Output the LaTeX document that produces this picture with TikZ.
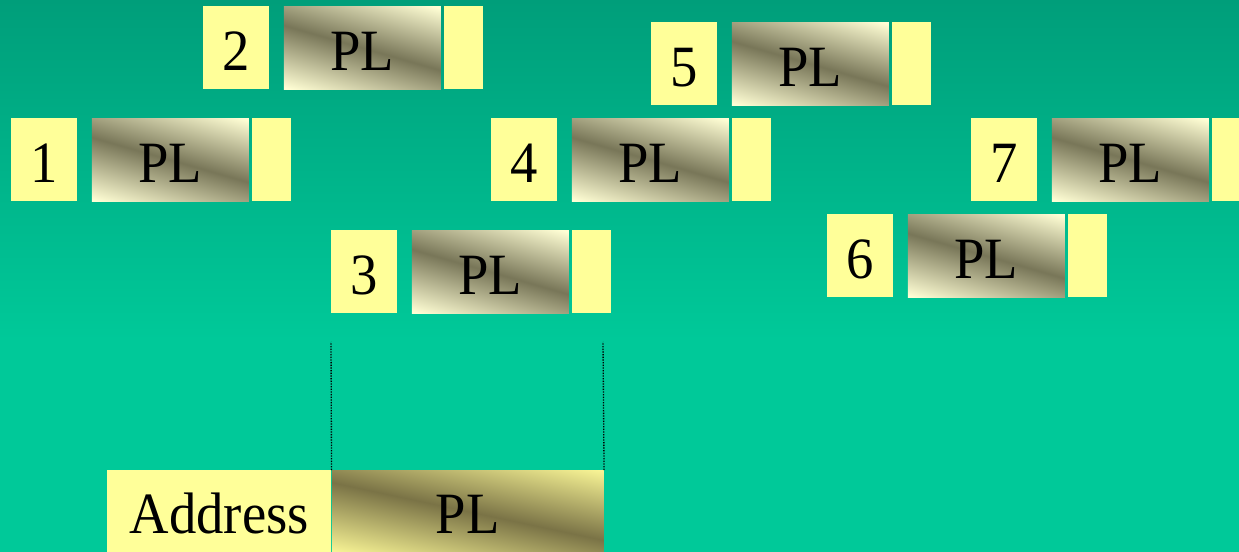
\documentclass[tikz,border=0pt]{standalone}
\usepackage{fontspec}
\usepackage{graphicx}
\setmainfont{Liberation Serif}
\usetikzlibrary{positioning}

\definecolor{bgtop}{RGB}{0,158,122}
\definecolor{bgbot}{RGB}{0,201,153}
\definecolor{padyellow}{RGB}{255,255,153}
\definecolor{pllight}{RGB}{255,254,212}
\definecolor{pldark}{RGB}{120,118,88}
\definecolor{biglight}{RGB}{250,246,150}
\definecolor{bigdark}{RGB}{122,115,70}

% diagonal payload shadings, light in two corners
\pgfdeclareverticalshading{plshading}{100bp}{color(0bp)=(pllight);
  color(20bp)=(pllight); color(50bp)=(pldark); color(80bp)=(pllight);
  color(100bp)=(pllight)}
\pgfdeclareverticalshading{bigplshading}{100bp}{color(0bp)=(biglight);
  color(20bp)=(biglight); color(50bp)=(bigdark); color(80bp)=(biglight);
  color(100bp)=(biglight)}

\newcommand\tall[1]{\scalebox{1}[1.07]{#1}}

\begin{document}
\begin{tikzpicture}[x=0.75pt,y=-0.75pt,
  box/.style={inner sep=0pt, minimum height=62.25pt, text height=33.75pt,
    text depth=0pt, font=\fontsize{41}{45}\selectfont},
  numbox/.style={box, fill=padyellow, minimum width=49.5pt},
  plbox/.style={box, minimum width=117.75pt, shade, shading=plshading,
    shading angle=-16},
  tailbox/.style={box, fill=padyellow, minimum width=29.25pt},
  addrbox/.style={box, fill=padyellow, minimum height=61.5pt, minimum width=168pt},
  bigplbox/.style={box, minimum height=61.5pt, minimum width=204pt,
    shade, shading=bigplshading, shading angle=-12},
  guide/.style={line width=1pt, dash pattern=on 1pt off 1pt}]
  \useasboundingbox (0,0) rectangle (1239,552);
  \clip (0,0) rectangle (1239,552);
  % background
  \fill[bgbot] (0,0) rectangle (1239,552);
  \shade[top color=bgtop, bottom color=bgbot] (0,0) rectangle (1239,340);
  % packets in flight
  \foreach \n/\px/\py in {1/11/118, 2/203/6, 3/331/230, 4/491/118,
                          5/651/22, 6/827/214, 7/971/118} {
    \node[numbox, anchor=north west] (num\n) at (\px,\py) {\tall{\n}};
    \node[plbox, right=10.5pt of num\n] (pl\n) {\tall{PL}};
    \node[tailbox, right=2.25pt of pl\n] (tail\n) {};
  }
  % reassembled packet
  \node[addrbox, anchor=north west] (addr) at (107,470) {\tall{Address}};
  \node[bigplbox, right=0pt of addr] (bigpl) {\tall{PL}};
  \coordinate (gl) at (331,342);
  \coordinate (gr) at (603,342);
  \draw[guide] (bigpl.north west) -- (gl);
  \draw[guide] (bigpl.north east) -- (gr);
\end{tikzpicture}
\end{document}
